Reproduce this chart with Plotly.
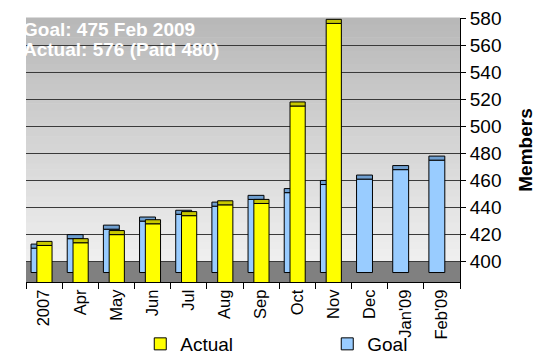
import plotly.graph_objects as go

# Membership per month versus the growth goal
months = ["2007", "Apr", "May", "Jun", "Jul", "Aug", "Sep", "Oct", "Nov",
          "Dec", "Jan'09", "Feb'09"]
actual = [412, 414, 420, 428, 434, 442, 443, 515, 576, None, None, None]
goal = [410, 417, 424, 430, 435, 441, 446, 451, 457, 461, 468, 475]
y_ticks = list(range(400, 581, 20))

FONT = "Liberation Sans, Arial, sans-serif"
Y_MIN, Y_MAX = 385, 580
GOAL_BASE = 392   # goal bars stand at the back of the floor
CAP = 3           # depth of the shaded top face of each bar, in members

YELLOW, YELLOW_TOP = "#FFFF00", "#C8C800"
BLUE, BLUE_TOP = "#99CCFF", "#6F9FD0"

fig = go.Figure()

# Goal bars sit at the back, slightly to the left
fig.add_trace(go.Bar(
    x=months, y=[g - GOAL_BASE for g in goal], base=GOAL_BASE, name="Goal",
    offset=-0.36, width=0.44,
    marker=dict(color=BLUE, line=dict(color="black", width=1)),
    legendrank=2, customdata=goal, hovertemplate="%{x}: %{customdata}<extra>Goal</extra>",
))
fig.add_trace(go.Bar(
    x=months, y=[CAP] * len(goal), base=goal,
    offset=-0.36, width=0.44, showlegend=False, hoverinfo="skip",
    marker=dict(color=BLUE_TOP, line=dict(color="black", width=1)),
))

# Actual bars in front
fig.add_trace(go.Bar(
    x=months, y=actual, name="Actual",
    offset=-0.2, width=0.42,
    marker=dict(color=YELLOW, line=dict(color="black", width=1)),
    legendrank=1,
))
fig.add_trace(go.Bar(
    x=months, y=[CAP if a is not None else None for a in actual],
    base=actual,
    offset=-0.2, width=0.42, showlegend=False, hoverinfo="skip",
    marker=dict(color=YELLOW_TOP, line=dict(color="black", width=1)),
))

# Grey gradient wall behind the bars, darker towards the top
shapes = []
n_strips = 40
top_rgb, bottom_rgb = (184, 184, 184), (244, 244, 244)
for i in range(n_strips):
    t = i / (n_strips - 1)
    c = tuple(int(round(bottom_rgb[k] + (top_rgb[k] - bottom_rgb[k]) * t)) for k in range(3))
    shapes.append(dict(
        type="rect", xref="paper", yref="paper",
        x0=0, x1=1, y0=i / n_strips, y1=(i + 1) / n_strips + 0.002,
        fillcolor="rgb(%d,%d,%d)" % c, line=dict(width=0), layer="below",
    ))
# Dark floor
shapes.append(dict(
    type="rect", xref="paper", yref="y", x0=0, x1=1, y0=Y_MIN, y1=400,
    fillcolor="#808080", line=dict(width=0), layer="below",
))

annotations = [
    dict(text="<b>Goal: 475 Feb 2009</b>", xref="paper", yref="paper",
         x=-0.012, y=0.955, xanchor="left", yanchor="middle", showarrow=False,
         font=dict(family=FONT, size=19, color="white")),
    dict(text="<b>Actual: 576 (Paid 480)</b>", xref="paper", yref="paper",
         x=-0.012, y=0.879, xanchor="left", yanchor="middle", showarrow=False,
         font=dict(family=FONT, size=19, color="white")),
]

fig.update_layout(
    width=550, height=363,
    margin=dict(l=26, r=90, t=18, b=81),
    barmode="overlay",
    paper_bgcolor="white",
    plot_bgcolor="rgba(0,0,0,0)",
    font=dict(family=FONT, color="black"),
    shapes=shapes,
    annotations=annotations,
    showlegend=True,
    legend=dict(
        orientation="h", xref="container", yref="container",
        x=0.255, y=-0.02, xanchor="left", yanchor="bottom",
        font=dict(family=FONT, size=19),
        entrywidth=142, bgcolor="rgba(0,0,0,0)",
        borderwidth=0, tracegroupgap=0,
    ),
    xaxis=dict(
        type="category", categoryorder="array", categoryarray=months,
        tickangle=-90, tickfont=dict(size=16.5),
        ticks="outside", ticklen=6, tickcolor="black", tickson="boundaries",
        showline=True, linecolor="black", showgrid=False,
        range=[-0.5, len(months) - 0.5], automargin=False,
    ),
    yaxis=dict(
        side="right", range=[Y_MIN, Y_MAX], tickvals=y_ticks,
        tickfont=dict(size=19),
        ticks="outside", ticklen=5, tickcolor="black",
        showline=True, linecolor="black",
        showgrid=True, gridcolor="#3a3a3a", gridwidth=1,
        zeroline=False, automargin=False,
        title=dict(text="<b>Members</b>", font=dict(size=19), standoff=18),
    ),
)

fig.write_html("out.html")
